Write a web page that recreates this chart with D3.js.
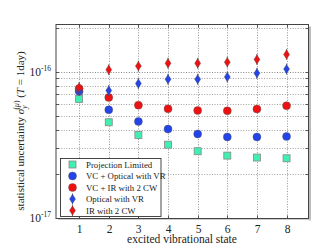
<!DOCTYPE html>
<html><head><meta charset="utf-8">
<script src="https://cdn.jsdelivr.net/npm/d3@7"></script>
<style>body{margin:0;background:#fff}svg{display:block}text{font-family:"Liberation Serif","DejaVu Serif",serif;fill:#222}</style>
</head><body><svg id="c" width="319" height="246"></svg>
<script>
const states = [1,2,3,4,5,6,7,8];
const projectionLimited = [6.5e-17,4.5e-17,3.68e-17,3.16e-17,2.85e-17,2.66e-17,2.58e-17,2.55e-17];
const vcOpticalVR = [7.34e-17,5.47e-17,4.56e-17,4.04e-17,3.74e-17,3.57e-17,3.57e-17,3.6e-17];
const vcIR2CW = [7.66e-17,6.65e-17,5.89e-17,5.56e-17,5.42e-17,5.39e-17,5.54e-17,5.83e-17];
const opticalVR = [7.45e-17,7.42e-17,8.28e-17,8.86e-17,8.86e-17,9.19e-17,9.74e-17,1.04e-16];
const ir2CW = [7.78e-17,1.03e-16,1.09e-16,1.14e-16,1.14e-16,1.16e-16,1.21e-16,1.31e-16];
const legendLabels = ["Projection Limited","VC + Optical with VR","VC + IR with 2 CW","Optical with VR","IR with 2 CW"];
const xTicks = [1,2,3,4,5,6,7,8];
const yMajor = [1e-17,1e-16];
const yMinor = [2e-17,3e-17,4e-17,5e-17,6e-17,7e-17,8e-17,9e-17,2e-16];

const svg = d3.select("#c");
const L=56,R=308.5,T=24.5,B=218.5;
const x = d3.scaleLinear().domain([0.22,8.74]).range([L,R]);
const y = d3.scaleLog().domain([1e-17,2.1e-16]).range([217.7,T]);

// shadow
svg.append("rect").attr("x",R).attr("y",T+2).attr("width",2.5).attr("height",B-T).attr("fill","#bbb");
svg.append("rect").attr("x",L+2).attr("y",B).attr("width",R-L).attr("height",1.5).attr("fill","#ccc");
svg.append("rect").attr("x",L).attr("y",T).attr("width",R-L).attr("height",B-T).attr("fill","#fff");

const g = svg.append("g");
[...yMajor,...yMinor].forEach(v=>{
  const yy=Math.round(y(v))+0.5;
  if(yy<=T+1||yy>=B-1) return;
  g.append("line").attr("x1",L).attr("x2",R).attr("y1",yy).attr("y2",yy)
   .attr("stroke",yMajor.includes(v)?"#666":"#888").attr("stroke-width",0.8).attr("stroke-dasharray","1,1.6");
  g.append("line").attr("x1",L).attr("x2",L+3).attr("y1",yy).attr("y2",yy).attr("stroke","#333").attr("stroke-width",0.8);
  g.append("line").attr("x1",R-3).attr("x2",R).attr("y1",yy).attr("y2",yy).attr("stroke","#333").attr("stroke-width",0.8);
});
xTicks.forEach(v=>{
  const xx=Math.round(x(v))+0.5;
  g.append("line").attr("x1",xx).attr("x2",xx).attr("y1",T).attr("y2",B)
   .attr("stroke","#777").attr("stroke-width",0.8).attr("stroke-dasharray","1,1.6");
  g.append("line").attr("x1",xx).attr("x2",xx).attr("y1",B-3).attr("y2",B).attr("stroke","#333").attr("stroke-width",0.8);
  g.append("line").attr("x1",xx).attr("x2",xx).attr("y1",T).attr("y2",T+3).attr("stroke","#333").attr("stroke-width",0.8);
  svg.append("text").attr("x",xx).attr("y",232.5).attr("text-anchor","middle").attr("font-size",11.5).text(v);
});
svg.append("rect").attr("x",L).attr("y",T).attr("width",R-L).attr("height",B-T).attr("fill","none").attr("stroke","#444").attr("stroke-width",1);

yMajor.forEach(v=>{
  const t=svg.append("text").attr("x",51).attr("y",y(v)+4).attr("text-anchor","end").attr("font-size",11.5);
  t.append("tspan").text("10");
  t.append("tspan").attr("dy",-4.5).attr("font-size",7.5).text(v===1e-16?"-16":"-17");
});

const colors={aqua:"#3ff0b0",blue:"#2244e8",red:"#ee1111"};
function square(sel,xx,yy){sel.append("rect").attr("x",xx-3.5).attr("y",yy-3.5).attr("width",7).attr("height",7).attr("fill",colors.aqua).attr("stroke","#888").attr("stroke-width",0.8);}
function circ(sel,xx,yy,c){sel.append("circle").attr("cx",xx).attr("cy",yy).attr("r",4).attr("fill",c).attr("stroke","#555").attr("stroke-width",0.4);}
function diam(sel,xx,yy,c){
  sel.append("line").attr("x1",xx).attr("x2",xx).attr("y1",yy-5.5).attr("y2",yy+5.5).attr("stroke","#444").attr("stroke-width",0.8);
  sel.append("path").attr("d",`M${xx},${yy-4.7}L${xx+3},${yy}L${xx},${yy+4.7}L${xx-3},${yy}Z`).attr("fill",c).attr("stroke","#555").attr("stroke-width",0.4);
}
const m=svg.append("g");
states.forEach((s,i)=>square(m,x(s),y(projectionLimited[i])));
states.forEach((s,i)=>circ(m,x(s),y(vcOpticalVR[i]),colors.blue));
states.forEach((s,i)=>circ(m,x(s),y(vcIR2CW[i]),colors.red));
states.forEach((s,i)=>diam(m,x(s),y(opticalVR[i]),colors.blue));
states.forEach((s,i)=>diam(m,x(s),y(ir2CW[i]),colors.red));

const lg=svg.append("g");
lg.append("rect").attr("x",60.5).attr("y",158.5).attr("width",100.5).attr("height",58).attr("fill","#fff").attr("stroke","#333").attr("stroke-width",0.9);
const drawers=[(s,a,b)=>square(s,a,b),(s,a,b)=>circ(s,a,b,colors.blue),(s,a,b)=>circ(s,a,b,colors.red),(s,a,b)=>diam(s,a,b,colors.blue),(s,a,b)=>diam(s,a,b,colors.red)];
legendLabels.forEach((lab,i)=>{
  const yy=164.5+i*11.5;
  drawers[i](lg,72.5,yy);
  lg.append("text").attr("x",86).attr("y",yy+3).attr("font-size",8.8).text(lab);
});

svg.append("text").attr("x",182).attr("y",243).attr("text-anchor","middle").attr("font-size",11.5).text("excited vibrational state");
const yl=svg.append("text").attr("transform","translate(24,131) rotate(-90)").attr("text-anchor","middle").attr("font-size",11);
yl.append("tspan").text("statistical uncertainty ");
yl.append("tspan").attr("font-style","italic").text("σ");
yl.append("tspan").attr("font-style","italic").attr("font-size",7.5).attr("dy",3).text("y");
yl.append("tspan").attr("font-size",7.5).attr("dy",-8).attr("dx",-4).text("(");
yl.append("tspan").attr("font-size",7.5).attr("font-style","italic").text("μ");
yl.append("tspan").attr("font-size",7.5).text(")");
yl.append("tspan").attr("dy",5).text(" (");
yl.append("tspan").attr("font-style","italic").text("T");
yl.append("tspan").text(" = 1day)");
</script></body></html>
